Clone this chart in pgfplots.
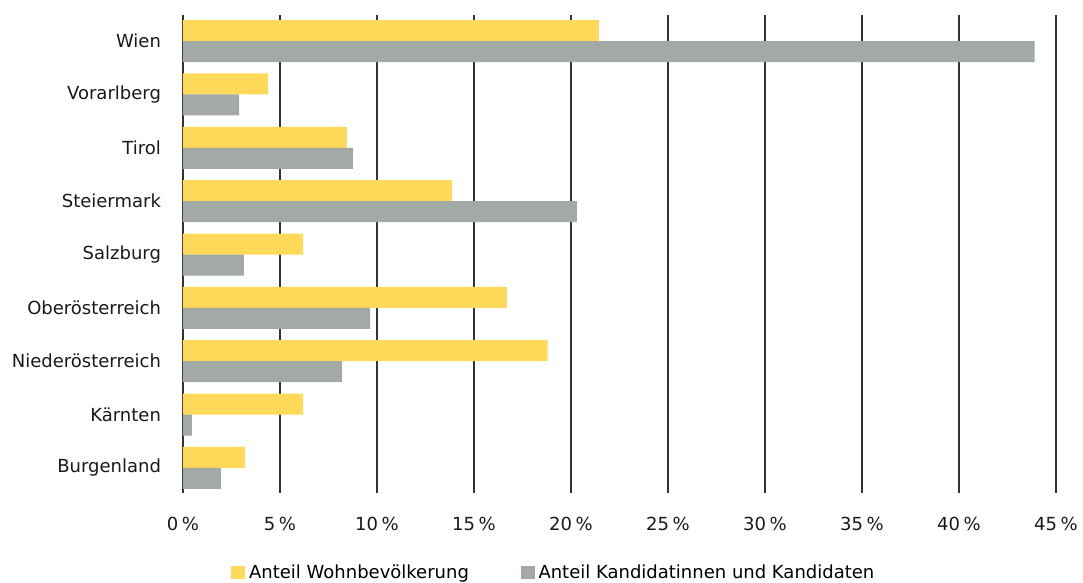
\documentclass[border=0pt]{standalone}
\usepackage{fontspec}
\setmainfont{DejaVu Sans}
\usepackage{pgfplots}
\pgfplotsset{compat=1.18}
\definecolor{wohnyellow}{HTML}{FFD957}
\definecolor{kandgray}{HTML}{A3AAA5}
\definecolor{gridblack}{HTML}{333333}

\begin{document}
\begin{tikzpicture}
\path[use as bounding box] (-91.5pt,-45pt) rectangle (450pt,246.5pt);
\begin{axis}[
    at={(0,0)}, anchor=south west,
    scale only axis,
    width=436.5pt, height=239pt,
    xbar, bar width=10.5pt,
    xmin=0, xmax=45,
    ymin=-0.47, ymax=8.49,
    xtick={0,5,...,45},
    ytick={0,...,8},
    yticklabels={Burgenland,Kärnten,Niederösterreich,Oberösterreich,Salzburg,Steiermark,Tirol,Vorarlberg,Wien},
    xticklabel={\pgfmathprintnumber[assume math mode=true]{\tick}\hspace{0.2em}\%},
    major tick length=0pt,
    axis line style={draw=none},
    xmajorgrids, ymajorgrids=false,
    grid style={draw=gridblack, line width=0.75pt},
    tick label style={font=\fontsize{9pt}{11pt}\selectfont, text=black!90},
    xticklabel style={yshift=-8.5pt},
    yticklabel style={xshift=-7.5pt},
    legend columns=2,
    legend style={at={(axis description cs:0.426,-0.167)}, anchor=center,
        draw=none, fill=none, font=\fontsize{9pt}{11pt}\selectfont,
        /tikz/every even column/.append style={column sep=24pt}},
    legend image code/.code={\fill[#1] (0pt,-3.2pt) rectangle (6.8pt,3.6pt);},
]
\addplot[fill=wohnyellow, draw=none, bar shift=5.25pt] coordinates {
    (3.2,0) (6.19,1) (18.8,2) (16.7,3) (6.19,4) (13.87,5) (8.45,6) (4.38,7) (21.44,8)
};
\addplot[fill=kandgray, draw=none, bar shift=-5.25pt] coordinates {
    (1.96,0) (0.46,1) (8.2,2) (9.64,3) (3.14,4) (20.3,5) (8.76,6) (2.89,7) (43.9,8)
};
\legend{Anteil Wohnbevölkerung, Anteil Kandidatinnen und Kandidaten}
\end{axis}
\end{tikzpicture}
\end{document}
